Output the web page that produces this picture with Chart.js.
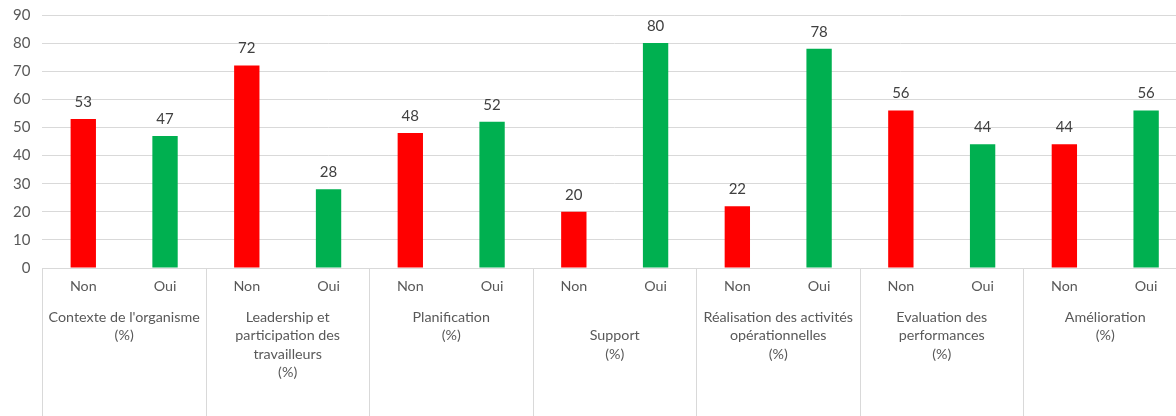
<!DOCTYPE html>
<html>
<head>
<meta charset="utf-8">
<script src="https://cdn.jsdelivr.net/npm/chart.js@4"></script>
<style>
  body { margin: 0; background: #fff; overflow: hidden; }
  #wrap { position: relative; width: 1188px; height: 416px; }
</style>
</head>
<body>
<div id="wrap"><canvas id="myChart"></canvas></div>
<script>
// réponses par groupe (Non / Oui), en %
const groupes = [
    ["Contexte de l'organisme", '(%)', '', ''],
    ['Leadership et', 'participation des', 'travailleurs', '(%)'],
    ['Planification', '(%)', '', ''],
    ['', 'Support', '(%)', ''],
    ['Réalisation des activités', 'opérationnelles', '(%)', ''],
    ['Evaluation des', 'performances', '(%)', ''],
    ['Amélioration', '(%)', '', '']
];
const reponses = ['Non', 'Oui'];
const valeurs = [53, 47, 72, 28, 48, 52, 20, 80, 22, 78, 56, 44, 44, 56];
const yTicks = [0, 10, 20, 30, 40, 50, 60, 70, 80, 90];

const rouge = '#ff0000';
const vert = '#00b050';
const gris = '#d9d9d9';

// une étiquette Non/Oui par barre
const labels = [];
groupes.forEach(() => reponses.forEach(r => labels.push(r)));
const couleurs = labels.map(l => l === 'Non' ? rouge : vert);

// séparateurs verticaux entre les groupes + valeurs au-dessus des barres
const dessinExtra = {
    id: 'dessinExtra',
    afterDraw(chart) {
        const c = chart.ctx;
        const x = chart.scales.x;
        const demi = (x.getPixelForValue(1) - x.getPixelForValue(0)) / 2;
        c.save();
        c.strokeStyle = gris;
        c.lineWidth = 1;
        for (let g = 0; g <= groupes.length; g++) {
            const px = Math.round(x.getPixelForValue(g * 2) - demi) + 0.5;
            c.beginPath();
            c.moveTo(px, chart.chartArea.bottom);
            c.lineTo(px, chart.height);
            c.stroke();
        }
        c.fillStyle = '#404040';
        c.font = '15px Lato';
        c.textAlign = 'center';
        c.textBaseline = 'middle';
        chart.getDatasetMeta(0).data.forEach((bar, i) => {
            c.fillText(valeurs[i], bar.x, bar.y - 17);
        });
        c.restore();
    }
};

Chart.defaults.font.family = 'Lato';
Chart.defaults.font.size = 14.3;
Chart.defaults.color = '#595959';

new Chart(document.getElementById('myChart'), {
    type: 'bar',
    data: {
        labels: labels,
        datasets: [{
            data: valeurs,
            backgroundColor: couleurs,
            barPercentage: 0.31,
            categoryPercentage: 1
        }]
    },
    options: {
        responsive: true,
        maintainAspectRatio: false,
        devicePixelRatio: 1,
        animation: false,
        layout: { padding: { left: 1, top: 15, right: 1, bottom: 0 } },
        plugins: { legend: { display: false }, tooltip: { enabled: false } },
        scales: {
            y: {
                min: 0,
                max: 90,
                afterBuildTicks: s => { s.ticks = yTicks.map(v => ({ value: v })); },
                afterFit: s => { s.paddingTop = 0; s.paddingBottom = 0; },
                grid: { color: gris, drawTicks: false },
                border: { display: false },
                ticks: { padding: 12, font: { size: 15 } }
            },
            x: {
                grid: { display: false, drawTicks: false },
                border: { color: gris },
                ticks: { padding: 10, maxRotation: 0, autoSkip: false },
                afterFit: s => { s.height = 30; }
            },
            x2: {
                type: 'category',
                position: 'bottom',
                labels: groupes,
                offset: true,
                grid: { display: false, drawTicks: false },
                border: { display: false },
                ticks: { padding: 10, maxRotation: 0, autoSkip: false, font: { lineHeight: 1.29 } },
                afterFit: s => { s.height = 118; }
            }
        }
    },
    plugins: [dessinExtra]
});
</script>
</body>
</html>
